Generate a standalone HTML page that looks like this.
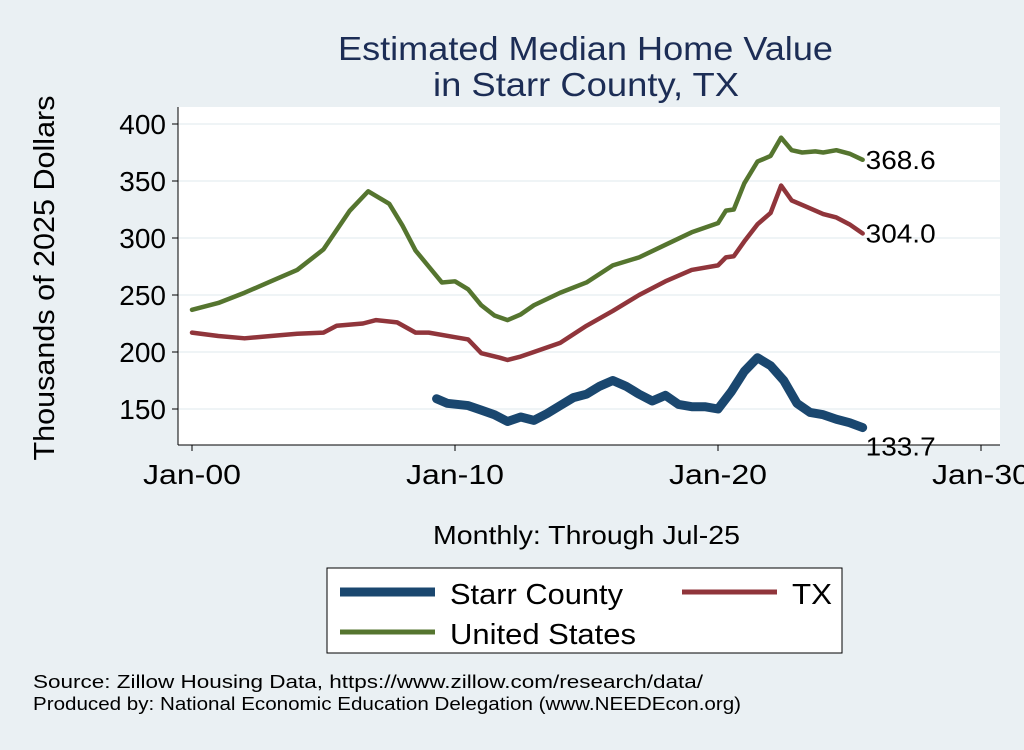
<!DOCTYPE html>
<html><head><meta charset="utf-8"><style>
body{margin:0;width:1024px;height:745px;background:#eaf0f3;font-family:"Liberation Sans",sans-serif;overflow:hidden}
</style></head><body>
<svg id="chart" width="1024" height="745" font-family="Liberation Sans, sans-serif">
<rect x="178" y="107" width="822" height="338" fill="#fff"/>
<text x="338" y="60" font-size="33" fill="#1c2d55" textLength="495" lengthAdjust="spacingAndGlyphs">Estimated Median Home Value</text>
<text x="433" y="96" font-size="33" fill="#1c2d55" textLength="306" lengthAdjust="spacingAndGlyphs">in Starr County, TX</text>
<text transform="translate(54,278) rotate(-90)" font-size="29" text-anchor="middle" textLength="365" lengthAdjust="spacingAndGlyphs">Thousands of 2025 Dollars</text>
<text x="433" y="544" font-size="26" textLength="307" lengthAdjust="spacingAndGlyphs">Monthly: Through Jul-25</text>
<g id="grid"></g><g id="axes"></g><g id="series"></g><g id="labels"></g>
<rect x="327" y="568" width="515" height="85" fill="#fff" stroke="#000" stroke-width="1"/>
<g><line x1="340" y1="592" x2="435" y2="592" stroke="#1a476f" stroke-width="9"/><text x="450" y="604" font-size="29" textLength="173" lengthAdjust="spacingAndGlyphs">Starr County</text></g>
<g><line x1="682" y1="592" x2="777" y2="592" stroke="#90353b" stroke-width="5"/><text x="792" y="604" font-size="29" textLength="40" lengthAdjust="spacingAndGlyphs">TX</text></g>
<g><line x1="340" y1="632" x2="435" y2="632" stroke="#55752f" stroke-width="5"/><text x="450" y="644" font-size="29" textLength="186" lengthAdjust="spacingAndGlyphs">United States</text></g>
<text x="33" y="688" font-size="18" textLength="670" lengthAdjust="spacingAndGlyphs">Source: Zillow Housing Data, https://www.zillow.com/research/data/</text>
<text x="33" y="710" font-size="18" textLength="708" lengthAdjust="spacingAndGlyphs">Produced by: National Economic Education Delegation (www.NEEDEcon.org)</text>
</svg>
<script>
const yTicks=[150,200,250,300,350,400];
const xTicks=[2000,2010,2020,2030];
const xTickLabels=["Jan-00","Jan-10","Jan-20","Jan-30"];
const usDates=[2000,2001,2002,2003,2004,2005,2006,2006.7,2007.5,2008,2008.5,2009,2009.5,2010,2010.5,2011,2011.5,2012,2012.5,2013,2014,2015,2016,2017,2018,2019,2020,2020.3,2020.6,2021,2021.5,2022,2022.4,2022.8,2023.2,2023.7,2024,2024.5,2025,2025.5];
const usValues=[237,243,252,262,272,290,324,341,330,311,289,275,261,262,255,241,232,228,233,241,252,261,276,283,294,305,313,324,325,348,367,372,388,377,375,376,375,377,374,368.6];
const txDates=[2000,2001,2002,2003,2004,2005,2005.5,2006.5,2007,2007.8,2008.5,2009,2010,2010.5,2011,2011.7,2012,2012.5,2013,2014,2015,2016,2017,2018,2019,2020,2020.3,2020.6,2021,2021.5,2022,2022.4,2022.8,2023.3,2024,2024.5,2025,2025.5];
const txValues=[217,214,212,214,216,217,223,225,228,226,217,217,213,211,199,195,193,196,200,208,223,236,250,262,272,276,283,284,297,312,322,346,333,328,321,318,312,304];
const starrDates=[2009.3,2009.7,2010.5,2011,2011.5,2012,2012.5,2013,2013.5,2014,2014.5,2015,2015.5,2016,2016.5,2017,2017.5,2018,2018.5,2019,2019.5,2020,2020.5,2021,2021.5,2022,2022.5,2023,2023.5,2024,2024.5,2025,2025.5];
const starrValues=[159,155,153,149,145,139,143,140,146,153,160,163,170,175,170,163,157,162,154,152,152,150,165,183,195,188,175,155,147,145,141,138,133.7];

const X=d=>192+(d-2000)*26.3;
const Y=v=>409-(v-150)*1.14;
const NS="http://www.w3.org/2000/svg";
function mk(tag,attrs,parent){const e=document.createElementNS(NS,tag);for(const k in attrs)e.setAttribute(k,attrs[k]);document.getElementById(parent).appendChild(e);return e;}
yTicks.forEach(v=>{
 const g=mk('line',{x1:178,x2:1000,y1:Y(v),y2:Y(v),stroke:'#eaf0f3','stroke-width':1.5},'grid');
 
 
 const t=mk('line',{x1:172,x2:178,y1:Y(v),y2:Y(v),stroke:'#000'},'axes');
 
 
 const l=mk('text',{x:166,y:Y(v)+10,'font-size':28,'text-anchor':'end'},'axes');l.textContent=v;
 
 
});
mk('line',{x1:178,x2:178,y1:107,y2:445,stroke:'#000'},'axes');
mk('line',{x1:178,x2:1000,y1:445,y2:445,stroke:'#000'},'axes');
xTicks.forEach((d,i)=>{
 const t=mk('line',{x1:X(d),x2:X(d),y1:445,y2:451,stroke:'#000'},'axes');
 
 
 const l=mk('text',{x:X(d),y:484,'font-size':28,'text-anchor':'middle',textLength:98,lengthAdjust:'spacingAndGlyphs'},'axes');l.textContent=xTickLabels[i];
 
 
});
function line(ds,vs,color,w,name){
 const p=mk('polyline',{points:ds.map((d,i)=>X(d)+','+Y(vs[i])).join(' '),fill:'none',stroke:color,'stroke-width':w,'stroke-linejoin':'round','stroke-linecap':'round'},'series');
 
 
 const n=vs.length-1;
 const l=mk('text',{x:X(ds[n])+3,y:Y(vs[n])+9,'font-size':26,textLength:70,lengthAdjust:'spacingAndGlyphs'},'labels');l.textContent=vs[n].toFixed(1);
 
 
 return l;
}
line(usDates,usValues,'#55752f',4.5,'us-line');
line(txDates,txValues,'#90353b',4.5,'tx-line');
const sl=line(starrDates,starrValues,'#1a476f',9,'starr-line');
sl.setAttribute('y',Y(starrValues[starrValues.length-1])+28);
</script>
</body></html>
